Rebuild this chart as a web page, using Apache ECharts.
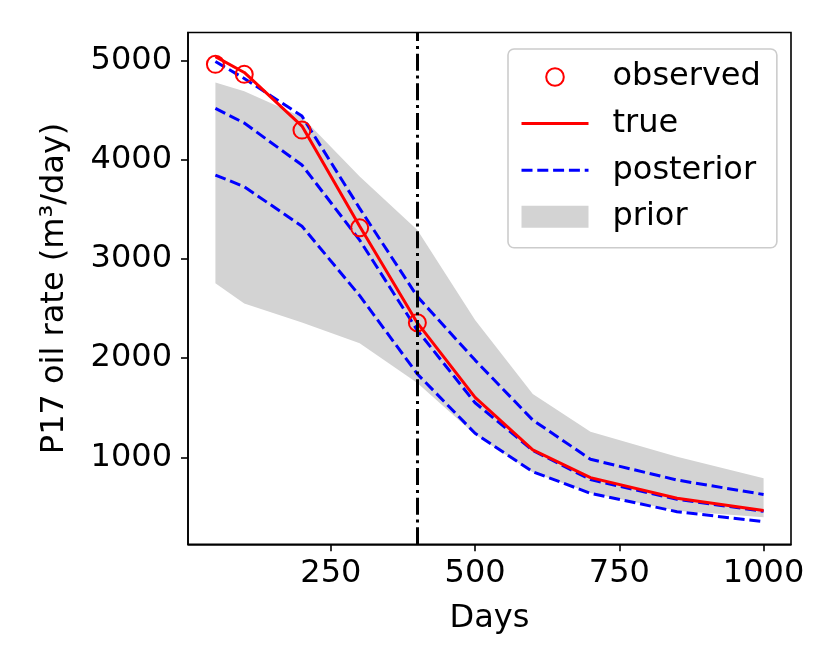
<!DOCTYPE html>
<html><head><meta charset="utf-8">
<script src="https://cdn.jsdelivr.net/npm/echarts@6/dist/echarts.min.js"></script>
<style>html,body{margin:0;padding:0;background:#fff}#c{width:830px;height:664px}</style>
</head><body><div id="c"></div>
<script>
const days = [50, 100, 200, 300, 400, 500, 600, 700, 850, 1000];
const obsDays = [50, 100, 200, 300, 400];
const observed = [4962, 4861, 4299, 3315, 2357];
const trueRate = [5040, 4880, 4340, 3330, 2355, 1605, 1075, 795, 587, 463];
const postUpper = [4990, 4820, 4440, 3510, 2620, 1980, 1376, 980, 771, 625];
const postMid = [4518, 4370, 3947, 3190, 2280, 1550, 1070, 775, 577, 455];
const postLower = [3846, 3728, 3330, 2630, 1840, 1242, 855, 637, 452, 351];
const priorUpper = [4780, 4690, 4430, 3830, 3291, 2384, 1638, 1258, 1006, 788];
const priorLower = [2754, 2552, 2360, 2150, 1750, 1230, 850, 640, 460, 395];
const xTicks = [250, 500, 750, 1000];
const yTicks = [1000, 2000, 3000, 4000, 5000];
const splitDay = 400;

const pair = (xs, ys) => xs.map((x, i) => [x, ys[i]]);
const FONT = 'DejaVu Sans';
const blueDash = { color: '#0000ff', width: 3, type: [11, 4.8] };

const chart = echarts.init(document.getElementById('c'), null, { renderer: 'canvas' });
chart.setOption({
  animation: false,
  backgroundColor: '#fff',
  grid: { left: 188, right: 39, top: 32.5, bottom: 119.7, show: true, borderColor: '#000', borderWidth: 1.6, backgroundColor: 'transparent' },
  xAxis: {
    type: 'value', min: 2.5, max: 1047.5,
    name: 'Days', nameLocation: 'middle', nameGap: 58,
    nameTextStyle: { fontFamily: FONT, fontSize: 32, color: '#000' },
    axisLine: { show: true, onZero: false, lineStyle: { color: '#000', width: 1.6 } },
    axisTick: { show: true, length: 7, lineStyle: { color: '#000', width: 1.6 }, customValues: xTicks },
    axisLabel: { fontFamily: FONT, fontSize: 32, color: '#000', margin: 13, customValues: xTicks, formatter: v => String(v) },
    splitLine: { show: false }
  },
  yAxis: {
    type: 'value', min: 123, max: 5283,
    name: 'P17 oil rate (m³/day)', nameLocation: 'middle', nameGap: 117,
    nameTextStyle: { fontFamily: FONT, fontSize: 32, color: '#000' },
    axisLine: { show: true, onZero: false, lineStyle: { color: '#000', width: 1.6 } },
    axisTick: { show: true, length: 7, lineStyle: { color: '#000', width: 1.6 }, customValues: yTicks },
    axisLabel: { fontFamily: FONT, fontSize: 32, color: '#000', margin: 16, customValues: yTicks, formatter: v => String(v) },
    splitLine: { show: false }
  },
  legend: {
    orient: 'vertical', left: 508, top: 49,
    padding: [12, 16, 15, 12],
    backgroundColor: 'rgba(255,255,255,0.8)', borderColor: '#cccccc', borderWidth: 1.6, borderRadius: 6,
    itemWidth: 67, itemHeight: 22, itemGap: 14.6,
    textStyle: { fontFamily: FONT, fontSize: 32, color: '#000', lineHeight: 32, padding: [0, 0, 0, 19] },
    data: [
      { name: 'observed', lineStyle: { width: 0, opacity: 0 } },
      { name: 'true', itemStyle: { opacity: 0 }, lineStyle: { width: 3, color: '#ff0000' } },
      { name: 'posterior', itemStyle: { opacity: 0 }, lineStyle: { width: 3, color: '#0000ff', type: [11, 4.8] } },
      { name: 'prior', icon: 'rect', itemStyle: { color: '#d3d3d3', borderWidth: 0 } }
    ]
  },
  series: [
    { name: 'prior', type: 'custom', silent: true, z: 1,
      itemStyle: { color: '#d3d3d3' },
      data: [[days[0], priorUpper[0]]],
      renderItem: function (params, api) {
        const pts = [];
        for (let i = 0; i < days.length; i++) pts.push(api.coord([days[i], priorUpper[i]]));
        for (let i = days.length - 1; i >= 0; i--) pts.push(api.coord([days[i], priorLower[i]]));
        return { type: 'polygon', shape: { points: pts }, style: { fill: '#d3d3d3', stroke: 'none' } };
      } },
    { name: 'posterior', type: 'line', data: pair(days, postUpper), symbol: 'none', lineStyle: blueDash, itemStyle: { color: '#0000ff' }, z: 2 },
    { name: 'posterior', type: 'line', data: pair(days, postMid), symbol: 'none', lineStyle: blueDash, itemStyle: { color: '#0000ff' }, z: 2 },
    { name: 'posterior', type: 'line', data: pair(days, postLower), symbol: 'none', lineStyle: blueDash, itemStyle: { color: '#0000ff' }, z: 2 },
    { name: 'true', type: 'line', data: pair(days, trueRate), symbol: 'none',
      lineStyle: { color: '#ff0000', width: 3 }, itemStyle: { color: '#ff0000' }, z: 3,
      markLine: { silent: true, symbol: 'none', label: { show: false },
        lineStyle: { color: '#000', width: 3, type: [17, 4.8, 3, 4.8] },
        data: [{ xAxis: splitDay }] } },
    { name: 'observed', type: 'line', data: pair(obsDays, observed), symbol: 'circle', symbolSize: 17, showSymbol: true,
      lineStyle: { width: 0, opacity: 0 },
      itemStyle: { color: 'rgba(255,255,255,0)', borderColor: '#ff0000', borderWidth: 2 }, z: 4 }
  ]
});
</script></body></html>
